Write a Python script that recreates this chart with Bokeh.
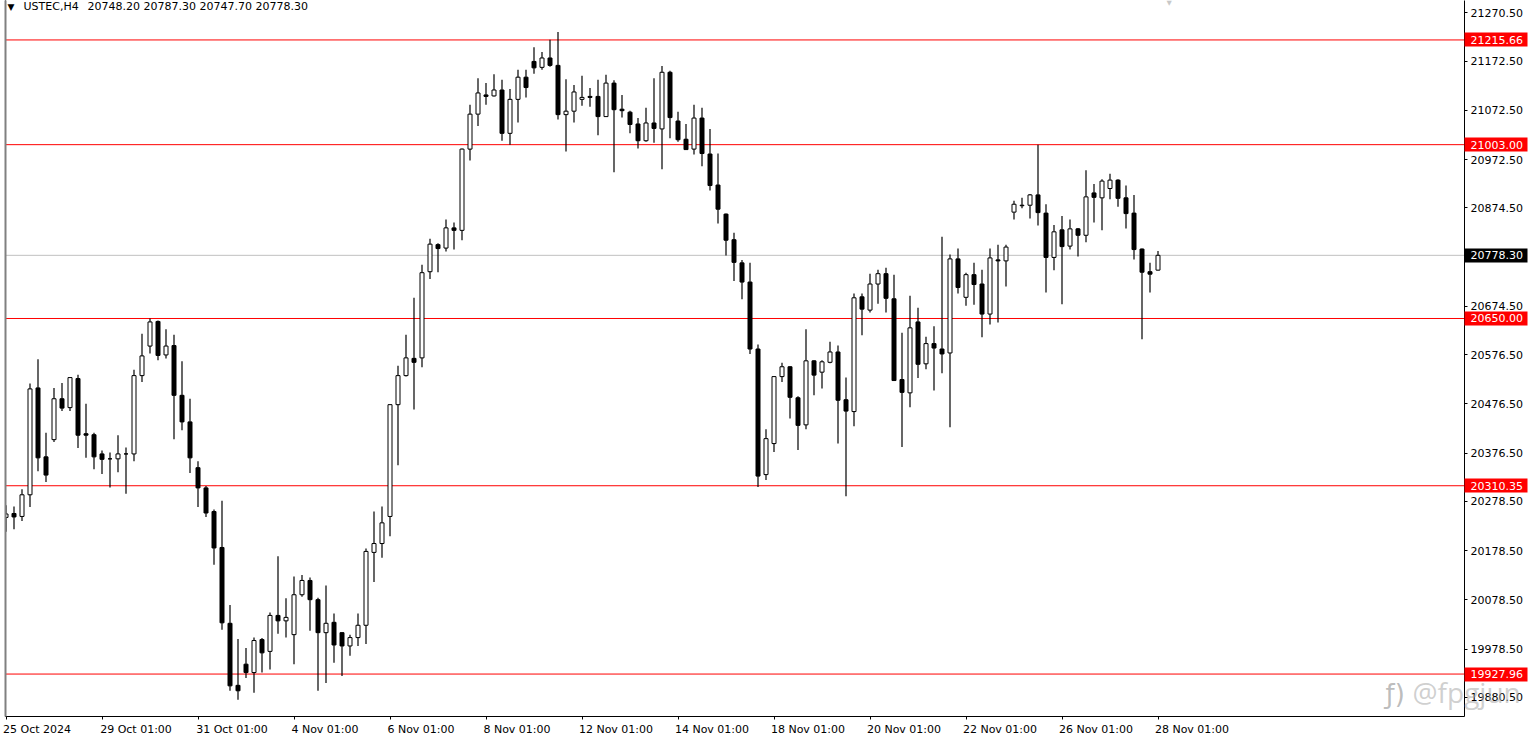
from bokeh.plotting import figure
from bokeh.embed import file_html
from bokeh.resources import INLINE
from bokeh.models import Label, Span, FixedTicker, NumeralTickFormatter, Range1d, ColumnDataSource, LinearAxis

SYMBOL = "USTEC,H4"
OHLC_TEXT = "20748.20 20787.30 20747.70 20778.30"
WATERMARK = "@fpgjun"

opens = [20246,20254,20248,20292,20509,20369,20404,20487,20469,20528,20416,20414,20375,20365,20365,20375,20375,20534,20594,20644,20576,20595,20494,20440,20347,20306,20258,20185,20031,19905,19948,19931,19998,19974,20047,20036,20008,20089,20118,20079,20012,20033,20012,19985,20002,20027,20175,20193,20248,20475,20534,20569,20570,20745,20800,20793,20834,20829,20994,21065,21104,21102,21114,21026,21095,21140,21172,21160,21179,21164,21064,21071,21095,21101,21101,21060,21128,21075,21069,21045,21011,21047,21035,21150,21051,21014,20994,21057,20984,20921,20862,20810,20763,20724,20588,20333,20396,20532,20552,20489,20434,20564,20541,20561,20582,20485,20461,20694,20667,20720,20741,20690,20526,20499,20643,20558,20599,20588,20580,20771,20693,20739,20720,20659,20769,20767,20866,20879,20880,20901,20864,20774,20830,20797,20832,20819,20905,20895,20914,20931,20895,20864,20791,20745,20748.2]
highs = [20271,20268,20303,20518,20567,20418,20509,20519,20531,20536,20477,20418,20382,20378,20413,20388,20546,20619,20650,20646,20628,20617,20563,20487,20360,20310,20262,20280,20068,19999,19981,20002,20001,20053,20167,20082,20126,20129,20124,20083,20108,20051,20013,20008,20051,20183,20258,20268,20476,20554,20617,20692,20759,20812,20803,20851,20845,20995,21084,21138,21128,21146,21135,21116,21155,21155,21201,21191,21216,21232,21136,21124,21143,21118,21135,21145,21134,21104,21072,21057,21078,21138,21163,21153,21070,21045,21084,21078,21035,20985,20863,20824,20769,20763,20597,20425,20533,20560,20553,20492,20628,20565,20565,20603,20595,20530,20701,20701,20741,20749,20753,20739,20621,20696,20672,20613,20634,20816,20780,20792,20743,20763,20749,20792,20800,20800,20889,20895,20903,21003,20882,20840,20858,20851,20834,20951,20923,20933,20944,20933,20920,20901,20792,20763,20787.3]
lows = [20217,20222,20239,20267,20340,20318,20399,20462,20462,20387,20367,20344,20334,20307,20338,20294,20360,20521,20579,20565,20569,20405,20423,20336,20267,20247,20150,20018,19894,19876,19920,19890,19931,19937,20010,20002,19948,20085,20016,19894,19910,19951,19924,19965,19985,19989,20115,20164,20208,20352,20532,20465,20551,20730,20744,20786,20790,20809,20971,21041,21084,21101,21011,21003,21048,21099,21147,21155,21161,21054,20989,21048,21082,21080,21022,21059,20947,21058,21026,20995,21009,21007,20953,21016,21009,20992,20983,20959,20910,20843,20778,20726,20689,20578,20308,20322,20379,20521,20447,20383,20425,20494,20508,20559,20396,20289,20431,20616,20662,20680,20662,20523,20389,20470,20529,20547,20504,20539,20429,20701,20676,20678,20612,20638,20642,20715,20851,20874,20853,20839,20703,20748,20679,20790,20776,20805,20845,20829,20892,20877,20833,20770,20608,20703,20747.7]
closes = [20253,20247,20292,20507,20367,20332,20487,20468,20530,20413,20413,20369,20364,20365,20375,20375,20534,20574,20643,20575,20594,20494,20440,20367,20306,20255,20184,20032,19904,19894,19931,19996,19971,20047,20036,20043,20089,20118,20079,20012,20031,19987,19985,20002,20027,20177,20193,20235,20475,20534,20570,20561,20743,20801,20792,20834,20829,20994,21065,21108,21101,21114,21026,21095,21140,21119,21159,21179,21164,21064,21071,21110,21099,21099,21060,21128,21074,21072,21044,21011,21047,21036,21150,21058,21013,20993,21057,20985,20920,20872,20809,20764,20724,20588,20330,20406,20532,20552,20490,20433,20564,20535,20562,20582,20484,20462,20692,20669,20720,20741,20691,20524,20500,20631,20557,20599,20590,20578,20771,20713,20739,20719,20659,20773,20767,20795,20882,20880,20901,20865,20774,20826,20796,20832,20819,20897,20896,20929,20931,20894,20863,20790,20744,20740,20778.3]

y_ticks = [21270.5,21172.5,21072.5,20972.5,20874.5,20774.5,20674.5,20576.5,20476.5,20376.5,20278.5,20178.5,20078.5,19978.5,19880.5]
x_tick_index = [0,12,24,36,48,60,72,84,96,108,120,132,144]
x_tick_labels = ["25 Oct 2024","29 Oct 01:00","31 Oct 01:00","4 Nov 01:00","6 Nov 01:00","8 Nov 01:00","12 Nov 01:00","14 Nov 01:00","18 Nov 01:00","20 Nov 01:00","22 Nov 01:00","26 Nov 01:00","28 Nov 01:00"]
red_levels = [21215.66,21003.00,20650.00,20310.35,19927.96]
last_price = 20778.30

src = ColumnDataSource(dict(
    x=list(range(len(opens))), high=highs, low=lows,
    top=[max(o, c) for o, c in zip(opens, closes)],
    bottom=[min(o, c) for o, c in zip(opens, closes)],
    fill=["#ffffff" if c >= o else "#000000" for o, c in zip(opens, closes)],
))

W, H = 1535, 738
FRAME_W, FRAME_H = 1459, 717
PX_PER_BAR = 8.0
PRICE_PER_PX = 2.0279
x0 = -0.5 / PX_PER_BAR
x1 = x0 + FRAME_W / PX_PER_BAR
y1 = 21295.76
y0 = y1 - FRAME_H * PRICE_PER_PX

p = figure(width=W, height=H, output_backend="svg", toolbar_location=None,
           x_range=Range1d(x0, x1), y_range=Range1d(y0, y1),
           y_axis_location="right", min_border_left=5, min_border_right=71,
           min_border_top=0, min_border_bottom=20,
           background_fill_color="#ffffff", border_fill_color="#ffffff",
           outline_line_color=None)
p.grid.visible = False

for lvl in red_levels:
    p.add_layout(Span(location=lvl, dimension="width", line_color="#ff0000", line_width=1, level="underlay"))
p.add_layout(Span(location=last_price, dimension="width", line_color="#c0c0c0", line_width=1, level="underlay"))

p.segment("x", "high", "x", "low", source=src, line_color="#000000", line_width=1.2)
p.vbar("x", width=0.5, top="top", bottom="bottom", source=src,
       fill_color="fill", line_color="#000000", line_width=1)

FONT = "DejaVu Sans"
TXT = dict(major_label_text_font=FONT, major_label_text_font_size="11px")

ax = p.yaxis[0]
ax.ticker = FixedTicker(ticks=y_ticks)
ax.formatter = NumeralTickFormatter(format="0.00")
ax.major_label_text_font = FONT
ax.major_label_text_font_size = "11px"
ax.major_label_text_color = "#000000"
ax.major_tick_in = 0
ax.major_tick_out = 3
ax.minor_tick_line_color = None
ax.major_label_standoff = 3
ax.axis_line_color = "#000000"

# bottom rule with its tick marks; the texts come from the axis below it
xa = p.xaxis[0]
xa.ticker = FixedTicker(ticks=x_tick_index)
xa.major_label_overrides = {i: "" for i in x_tick_index}
xa.major_label_text_font_size = "1px"
xa.major_label_standoff = 0
xa.major_tick_in = 0
xa.major_tick_out = 3
xa.minor_tick_line_color = None
xa.axis_line_color = "#000000"

# x labels sit to the right of their tick: an axis centres a label, so its position is moved by half the label
label_pos = [i + (len(t) * 3 - 2) / PX_PER_BAR for i, t in zip(x_tick_index, x_tick_labels)]
p.add_layout(LinearAxis(ticker=FixedTicker(ticks=label_pos),
                        major_label_overrides=dict(zip(label_pos, x_tick_labels)),
                        major_label_text_color="#000000", major_label_standoff=3,
                        axis_line_color=None, major_tick_line_color=None,
                        major_tick_in=0, major_tick_out=0, minor_tick_line_color=None, **TXT), "below")

# left rule, then the grey window edge further out
p.add_layout(LinearAxis(ticker=FixedTicker(ticks=[]), axis_line_color="#000000",
                        major_tick_in=0, major_tick_out=4, major_tick_line_color=None,
                        minor_tick_line_color=None, major_label_standoff=0), "left")
p.add_layout(LinearAxis(ticker=FixedTicker(ticks=[]), axis_line_color="#808080", axis_line_width=2,
                        major_tick_in=0, major_tick_out=0, minor_tick_line_color=None,
                        major_label_standoff=0), "left")

AXIS_W = 61  # width of the tick-label axis: the price tags reach back over it

def tag_axis(levels, bg):
    p.add_layout(LinearAxis(ticker=FixedTicker(ticks=levels), axis_line_color=None,
                            major_tick_in=AXIS_W, major_tick_out=2,
                            major_tick_line_color=bg, major_tick_line_width=14,
                            minor_tick_line_color=None,
                            formatter=NumeralTickFormatter(format="0.00"),
                            major_label_text_color="#ffffff", major_label_standoff=-57, **TXT), "right")

tag_axis(red_levels, "#ff0000")
tag_axis([last_price], "#000000")

def screen_text(x, y, text, font, size, color, alpha=1.0):
    p.add_layout(Label(x=x, y=FRAME_H - y, x_units="screen", y_units="screen", text=text,
                       text_font=font, text_font_size=size, text_color=color, text_alpha=alpha,
                       text_baseline="middle"))

screen_text(18, 7, SYMBOL, FONT, "11px", "#000000")
screen_text(82, 7, OHLC_TEXT, FONT, "11px", "#000000")
screen_text(2, 7, "\u25BC", FONT, "9px", "#000000")
screen_text(1161, 3, "\u25BC", FONT, "7px", "#c8c8c8")
screen_text(1380, 694, "\u0192)", FONT, "26px", "#a0a0a0", 0.7)

wm_level = y1 - 692 * PRICE_PER_PX
p.add_layout(LinearAxis(ticker=FixedTicker(ticks=[wm_level]), axis_line_color=None,
                        major_tick_in=0, major_tick_out=0, major_tick_line_color=None,
                        minor_tick_line_color=None,
                        major_label_overrides={wm_level: WATERMARK}, major_label_text_font="Open Sans",
                        major_label_text_font_size="28px", major_label_text_color="#a8a8a8",
                        major_label_text_alpha=0.55, major_label_standoff=-113), "right")

open("out.html", "w").write(file_html(p, INLINE))
